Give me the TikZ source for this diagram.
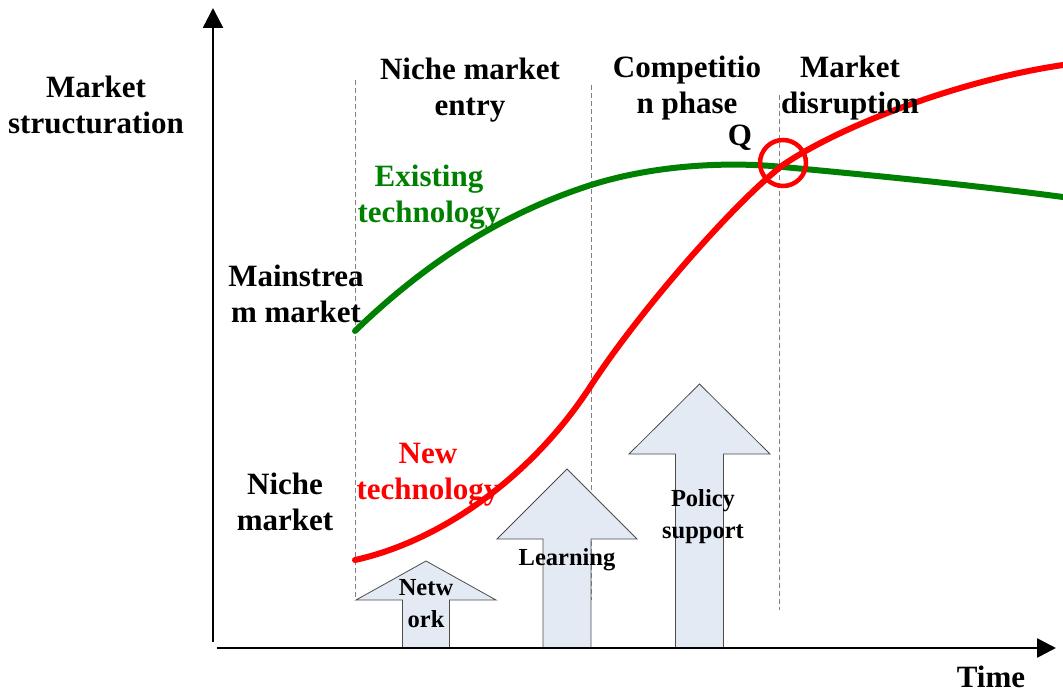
\documentclass[tikz,border=0pt]{standalone}
\usepackage{fontspec}
\setmainfont{Liberation Serif}
\usetikzlibrary{arrows.meta}
\definecolor{pushfill}{HTML}{E4EAF4}
\definecolor{oldgreen}{HTML}{008000}

\begin{document}
\begin{tikzpicture}[x=1pt,y=-1pt,
  lbl/.style={font=\fontsize{31}{36}\selectfont\bfseries,align=center,inner sep=0pt},
  small/.style={font=\fontsize{24.5}{32}\selectfont\bfseries,align=center,inner sep=0pt},
  phase/.style={gray,dash pattern=on 5pt off 3pt,line width=1pt},
  push/.style={draw=black!70,fill=pushfill,line width=0.8pt}]
  \useasboundingbox (0,0) rectangle (1063,693);
  % axes
  \coordinate (ybot) at (213,642);
  \coordinate (ytop) at (213,8);
  \coordinate (xleft) at (217,648);
  \coordinate (xright) at (1056,648);
  % phase borders
  \draw[phase] (355,80)--(355,600);
  \draw[phase] (591,85)--(591,600);
  \draw[phase] (779,95)--(779,610);
  % support arrows
  \foreach \cx/\tip/\base/\hw/\sw in {426/561/600/70/23.5,567/469/539/70/24,699.5/384/454/70.5/24}
    \draw[push] (\cx-\sw,648)--(\cx-\sw,\base)--(\cx-\hw,\base)--(\cx,\tip)
      --(\cx+\hw,\base)--(\cx+\sw,\base)--(\cx+\sw,648)--cycle;
  \draw[line width=2.5pt,-{Triangle[length=20pt,width=20pt]}] (ybot)--(ytop);
  \draw[line width=2.5pt,-{Triangle[length=19pt,width=19pt]}] (xleft)--(xright);
  % technologies
  \draw[oldgreen,line width=6pt,line cap=round] (355,331)
    .. controls (415,273) and (491,217) .. (591,185)
    .. controls (651,166) and (723,161) .. (783,167)
    .. controls (880,176) and (980,186) .. (1063,197);
  \draw[red,line width=6pt,line cap=round] (355,560)
    .. controls (445,540) and (534,473) .. (590,387)
    .. controls (640,310) and (735,202) .. (783,165)
    .. controls (840,126) and (960,80) .. (1063,65);
  \node[circle,draw=red,line width=4.5pt,minimum size=46pt,inner sep=0pt] (q) at (783,163) {};
  \node[lbl] (qlbl) at (740,138) {Q};
  % texts
  \node[lbl] (ylbl) at (96,105) {Market\\structuration};
  \node[lbl] (xlbl) at (991,677) {Time};
  \node[lbl] (entry) at (470,90) {Niche market\\entry};
  \node[lbl] (compet) at (687,88) {Competitio\\n phase};
  \node[lbl] (disrupt) at (850,88) {Market\\disruption};
  \node[lbl,oldgreen] (oldtech) at (429,197) {Existing\\technology};
  \node[lbl,red] (newtech) at (428,475) {New\\technology};
  \node[lbl] (mainm) at (296,294) {Mainstrea\\m market};
  \node[lbl] (nichem) at (285,502) {Niche\\market};
  \node[small] (network) at (426,604) {Netw\\ork};
  \node[small] (learning) at (567,560) {Learning};
  \node[small] (policy) at (703,517) {Policy\\support};
\end{tikzpicture}
\end{document}
